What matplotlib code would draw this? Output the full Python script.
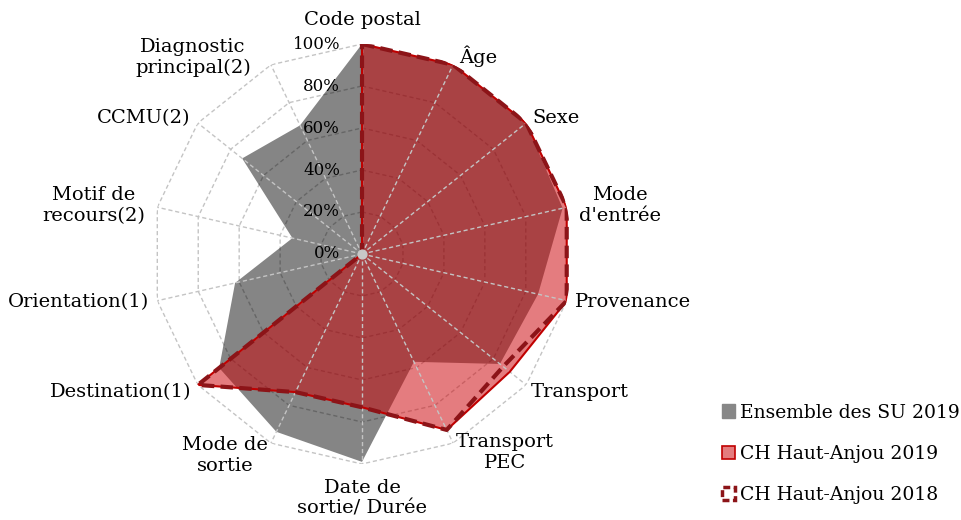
import numpy as np
import matplotlib.pyplot as plt
from matplotlib.patches import Patch

plt.rcParams['font.family'] = ['DejaVu Serif']

# axes of the radar, clockwise from the top
categories = ['Code postal', 'Âge', 'Sexe', "Mode\nd'entrée", 'Provenance', 'Transport',
              'Transport\nPEC', 'Date de\nsortie/ Durée', 'Mode de\nsortie', 'Destination(1)',
              'Orientation(1)', 'Motif de\nrecours(2)', 'CCMU(2)', 'Diagnostic\nprincipal(2)']

# completeness (%) per indicator
su_2019 = [100, 100, 100, 98, 86, 84, 57, 99, 94, 87, 62, 34, 73, 68]
ha_2019 = [100, 100, 100, 100, 100, 90, 93, 73, 73, 100, 0, 0, 0, 0]
ha_2018 = [100, 100, 100, 100, 100, 86, 93, 73, 73, 100, 0, 0, 0, 0]

levels = [0, 20, 40, 60, 80, 100]
level_labels = ['0%', '20%', '40%', '60%', '80%', '100%']
series_names = ['Ensemble des SU 2019', 'CH Haut-Anjou 2019', 'CH Haut-Anjou 2018']

# label offsets (pixels) from the 100% vertex
label_dx = [0, 25, 30, 53, 66, 54, 52, 0, -46, -77, -79, -64, -54, -78]
label_dy = [24, 9, 5, 2, -1, -7, -9, -34, -12, -7, -1, 2, 5, 7]

GRAY = (0, 0, 0, 0.48)
RED = (0.80, 0.02, 0.04)
DARKRED = '#8c1418'
GRID = '#c4c4c4'

n = len(categories)
theta = np.linspace(0, 2 * np.pi, n, endpoint=False)
closed = np.append(theta, theta[0])

def close(v):
    return np.append(v, v[0])

fig = plt.figure(figsize=(9.61, 5.2), dpi=100)
ax = fig.add_axes([0.1582, 0.1077, 0.437, 0.8077], projection='polar')
ax.set_theta_zero_location('N')
ax.set_theta_direction(-1)
ax.set_ylim(0, 100)
ax.grid(False)
ax.set_xticks([])
ax.set_yticks([])
ax.spines['polar'].set_visible(False)

# rings (polygons), under the fills
for lv in levels[1:]:
    ax.plot(closed, [lv] * (n + 1), color=GRID, lw=1, ls=(0, (3, 2)), zorder=1)

ax.fill(closed, close(su_2019), color=GRAY, lw=0, zorder=2)
ax.fill(closed, close(ha_2019), color=RED, alpha=0.52, lw=0, zorder=3)

# spokes, over the fills
for t in theta:
    ax.plot([t, t], [0, 100], color=GRID, lw=1, ls=(0, (3, 2)), zorder=4)

ax.plot(closed, close(ha_2019), color='#c00000', lw=1.5, zorder=5)
ax.plot(closed, close(ha_2018), color=DARKRED, lw=3, ls=(0, (3, 1.5)), zorder=6)
ax.scatter([0], [0], s=40, color='#c8c8c8', zorder=7)

for t, lab, dx, dy in zip(theta, categories, label_dx, label_dy):
    ax.annotate(lab, xy=(t, 100), xytext=(dx, dy), textcoords='offset pixels',
                ha='center', va='center', multialignment='center', fontsize=14)

for lv, lab in zip(levels, level_labels):
    ax.annotate(lab, xy=(0, lv), xytext=(-22, 0), textcoords='offset pixels',
                ha='right', va='center', fontsize=12, zorder=8)

handles = [Patch(facecolor='#878787', edgecolor='#878787'),
           Patch(facecolor='#e47c7e', edgecolor='#c00000', lw=1.2),
           Patch(facecolor='white', edgecolor=DARKRED, lw=2.5, ls=(0, (2, 1)))]
fig.legend(handles, series_names, loc='upper left', bbox_to_anchor=(714 / 961, 1 - 396 / 520),
           frameon=False, fontsize=13.5, handlelength=0.7, handleheight=0.7,
           handletextpad=0.3, labelspacing=1.25, borderaxespad=0)

fig.savefig('out.png', dpi=100)
